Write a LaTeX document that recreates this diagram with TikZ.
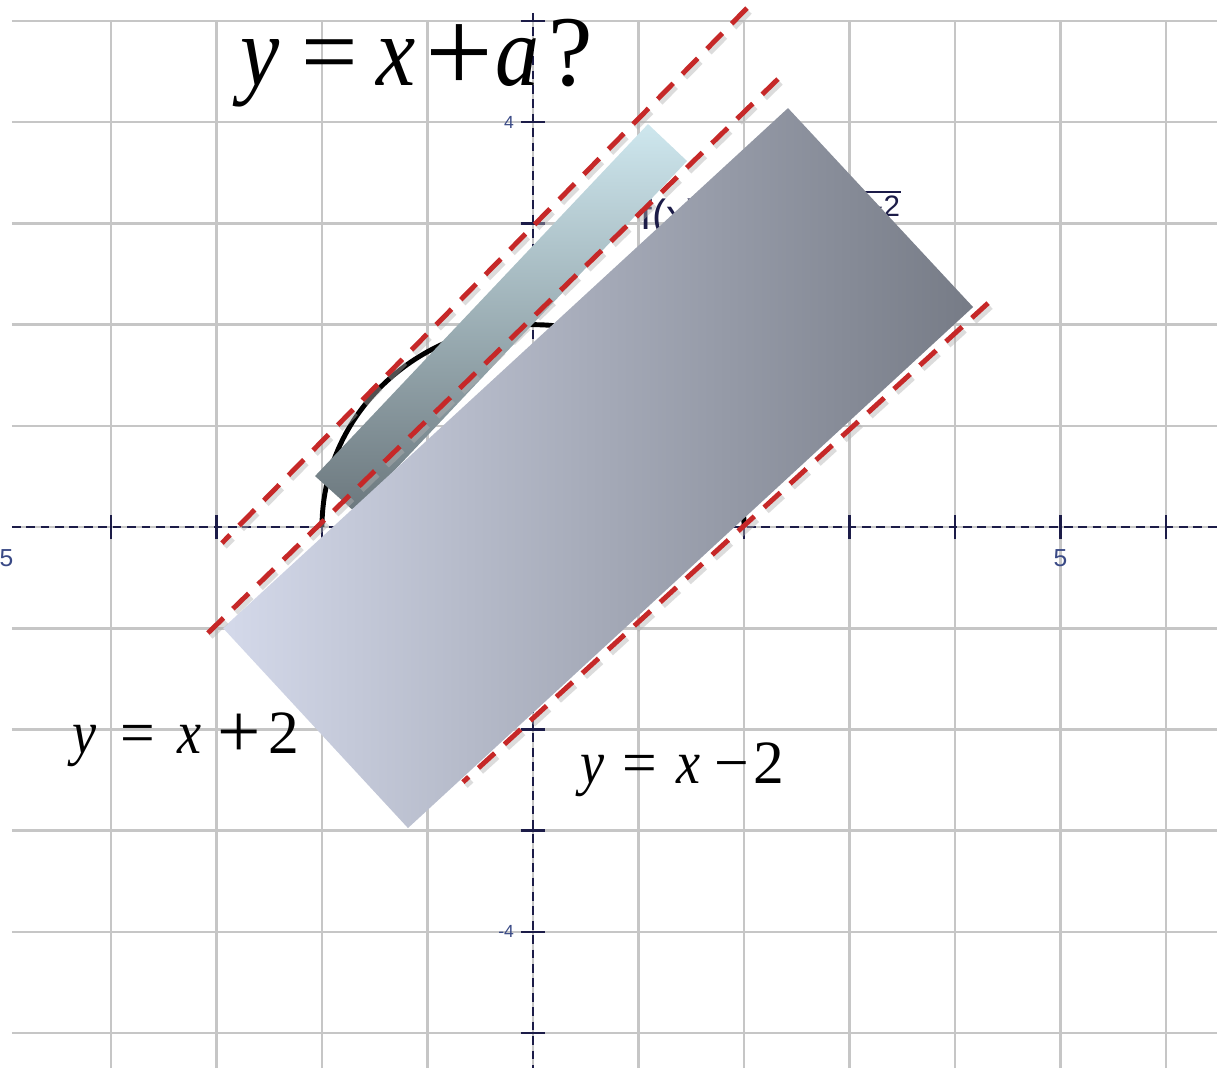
\documentclass[tikz,border=0pt]{standalone}
\usepackage{fontspec}
\usepackage{graphicx}
\setmainfont{Liberation Serif}
\setsansfont{Liberation Sans}
\usetikzlibrary{positioning}

\definecolor{rojo}{HTML}{C62828}
\definecolor{ejeazul}{HTML}{1C1C48}
\definecolor{gris}{HTML}{C6C6C6}
\definecolor{numazul}{HTML}{3A4A86}

\newcommand{\celda}[2]{\makebox[#1][c]{#2}}
\newcommand{\letra}[1]{\scalebox{0.88}[1]{\textit{#1}}}
\newcommand{\mas}[1]{\raisebox{-0.07em}{\scalebox{#1}{+}}}

\begin{document}
\begin{tikzpicture}[
x=2.11cm,
y=2.024cm,
rejilla/.style={
    draw=gris,
    line width=1.4pt,
    step=1
},
eje/.style={
    draw=ejeazul,
    line width=1.4pt,
    dash pattern=on 5pt off 3.2pt
},
marca/.style={
    draw=ejeazul,
    line width=1.4pt
},
numero/.style={
    text=numazul,
    font=\sffamily\fontsize{10}{12}\selectfont,
    inner sep=1pt
},
curva/.style={
    draw=black,
    line width=2.8pt
},
recta/.style={
    draw=rojo,
    line width=2.8pt,
    dash pattern=on 12.5pt off 7.5pt
},
sombra/.style={
    draw=black!30,
    opacity=0.45,
    line width=3.4pt,
    dash pattern=on 12.5pt off 7.5pt
},
barra/.style={
    top color={rgb,255:red,206;green,231;blue,238},
    bottom color={rgb,255:red,108;green,120;blue,126}
},
bloque/.style={
    left color={rgb,255:red,212;green,217;blue,234},
    right color={rgb,255:red,118;green,123;blue,134}
},
titulo/.style={
    font=\fontsize{57}{60}\selectfont,
    inner sep=0pt
},
ecuacion/.style={
    font=\fontsize{35}{38}\selectfont,
    inner sep=0pt
}
]

\useasboundingbox (-5.052,-5.346) rectangle (6.483,5.208);
\clip (-5.052,-5.346) rectangle (6.483,5.208);

% Rejilla y ejes
\draw[rejilla] (-4.94,-5.346) grid (6.483,5);

\draw[eje] (-4.94,0) -- (6.483,0);
\draw[eje] (0,5.08) -- (0,-5.346);

\foreach \i in {-4,...,6}
    \draw[marca] (\i,-0.12) -- (\i,0.12);
\foreach \j in {-5,...,5}
    \draw[marca] (-0.115,\j) -- (0.115,\j);

\node[numero, anchor=east] (ncuatro) at (-0.16,4) {4};
\node[numero, anchor=east] (nmenoscuatro) at (-0.16,-4) {-4};
\node[numero, anchor=north, font=\sffamily\fontsize{14}{16}\selectfont] (ncinco) at (5,-0.2) {5};
\node[numero, anchor=north, font=\sffamily\fontsize{14}{16}\selectfont] (nmenoscinco) at (-5.03,-0.2) {-5};

% Semicircunferencia
\draw[curva] (2,0) arc[start angle=0, end angle=180, radius=2];

\node[
    anchor=base west,
    text=ejeazul,
    font=\sffamily\fontsize{24}{27}\selectfont,
    inner sep=0pt
] (funcion) at (1.014,2.945) {f(x) = \(\sqrt{\mathsf{4-x^{2}}}\)};

% Rectangulos
\shade[barra] (-2.066,0.504) -- (1.090,3.982) -- (1.460,3.617) -- (-1.687,0.148) -- cycle;

\shade[bloque] (-2.938,-0.998) -- (2.417,4.140) -- (4.171,2.174) -- (-1.185,-2.974) -- cycle;

% Rectas
\coordinate (a1) at (2.028,5.128);
\coordinate (b1) at (-2.948,-0.158);
\coordinate (a2) at (2.322,4.427);
\coordinate (b2) at (-3.081,-1.047);
\coordinate (a3) at (4.313,2.213);
\coordinate (b3) at (-0.664,-2.520);

\foreach \k in {1,2,3} {
    \draw[sombra] ([shift={(0.025,-0.035)}]a\k) -- ([shift={(0.025,-0.035)}]b\k);
    \draw[recta] (a\k) -- (b\k);
}

% Ecuaciones
\node[titulo, anchor=base] (pregunta) at (-1.156,4.368)
    {\celda{39.8pt}{\letra{y}}\celda{39.3pt}{=}\celda{37pt}{\letra{x}}%
     \celda{34.4pt}{\mas{1.2}}\celda{31.6pt}{\letra{a}}\celda{29.6pt}{?}};

\node[ecuacion, anchor=base] (recsup) at (-3.322,-2.233)
    {\celda{29.6pt}{\letra{y}}\celda{30.2pt}{=}\celda{29.6pt}{\letra{x}}%
     \celda{26.5pt}{\mas{1.25}}\celda{24.8pt}{2}};

\node[ecuacion, anchor=base] (recinf) at (1.377,-2.530)
    {\celda{25.9pt}{\letra{y}}\celda{27.9pt}{=}\celda{26.9pt}{\letra{x}}%
     \celda{22.1pt}{−}\celda{20.2pt}{2}};

\end{tikzpicture}
\end{document}
